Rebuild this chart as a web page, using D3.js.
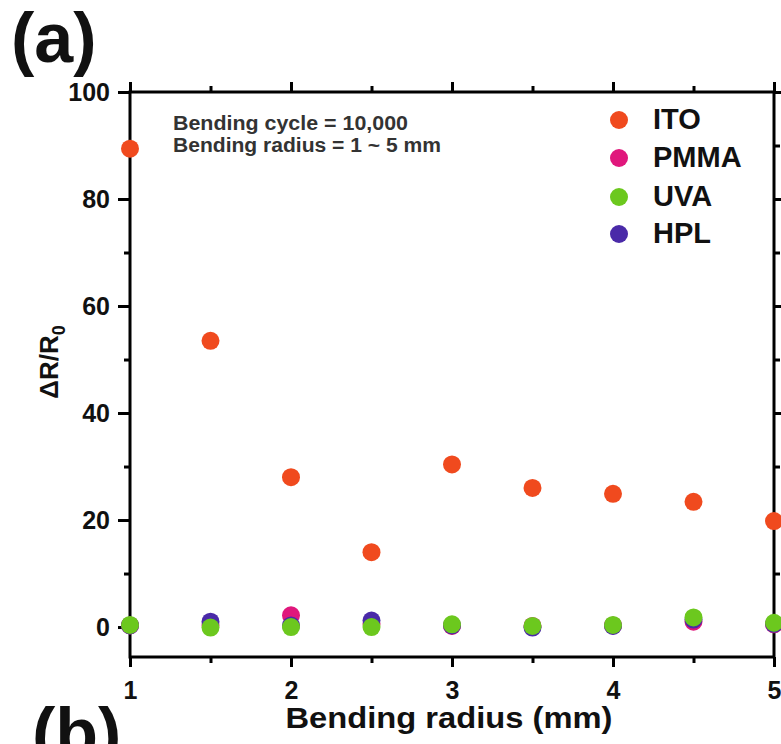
<!DOCTYPE html>
<html><head><meta charset="utf-8">
<script src="https://cdn.jsdelivr.net/npm/d3@7"></script>
<style>body{margin:0;background:#fff}svg{display:block}text{font-family:"Liberation Sans",Arial,sans-serif;font-weight:bold}</style>
</head><body>
<svg id="c" width="781" height="744"></svg>
<script>
const radius = [1, 1.5, 2, 2.5, 3, 3.5, 4, 4.5, 5];
const ITO  = [89.4, 53.5, 28.0, 14.0, 30.4, 26.0, 24.9, 23.4, 19.8];
const PMMA = [0.3, 0.4, 2.2, 0.6, 0.2, 0.2, 0.3, 1.0, 0.5];
const UVA  = [0.4, -0.1, 0.0, 0.0, 0.5, 0.2, 0.4, 1.8, 0.8];
const HPL  = [0.3, 1.0, 0.3, 1.2, 0.3, -0.1, 0.2, 1.4, 0.6];
const seriesNames = ["ITO", "PMMA", "UVA", "HPL"];
const colors = {ITO:"#f04a1e", PMMA:"#e0177c", UVA:"#6cc81e", HPL:"#4a2aa8"};
const xTicks = [1, 2, 3, 4, 5];
const xMinor = [1.5, 2.5, 3.5, 4.5];
const yTicks = [0, 20, 40, 60, 80, 100];
const yMinor = [10, 30, 50, 70, 90];

const svg = d3.select("#c");
const x = d3.scaleLinear().domain([1, 5]).range([130, 774]);
const y = d3.scaleLinear().domain([-5.6, 100]).range([657, 92]);
const L = 130, R = 774, T = 92, B = 657;

// panel labels
svg.append("text").attr("x", 11).attr("y", 62).attr("font-size", 70).attr("fill", "#111").text("(a)");
svg.append("text").attr("x", 32).attr("y", 757).attr("font-size", 70).attr("fill", "#111").text("(b)");

function styleAxis(g){
  g.select(".domain").remove();
  g.selectAll("line").attr("stroke","#000").attr("stroke-width",3);
  g.selectAll("text").attr("font-size",25).attr("fill","#111")
   .attr("font-family","Liberation Sans, Arial, sans-serif").attr("font-weight","bold");
}

const gB = svg.append("g").attr("transform", `translate(0,${B})`)
  .call(d3.axisBottom(x).tickValues(xTicks).tickFormat(d3.format("d")).tickSize(10).tickPadding(14));
styleAxis(gB);
const gBm = svg.append("g").attr("transform", `translate(0,${B})`)
  .call(d3.axisBottom(x).tickValues(xMinor).tickFormat("").tickSize(6));
styleAxis(gBm);
const gT = svg.append("g").attr("transform", `translate(0,${T})`)
  .call(d3.axisTop(x).tickValues(xTicks).tickFormat("").tickSize(10));
styleAxis(gT);
const gTm = svg.append("g").attr("transform", `translate(0,${T})`)
  .call(d3.axisTop(x).tickValues(xMinor).tickFormat("").tickSize(6));
styleAxis(gTm);
const gL = svg.append("g").attr("transform", `translate(${L},0)`)
  .call(d3.axisLeft(y).tickValues(yTicks).tickFormat(d3.format("d")).tickSize(12).tickPadding(8));
styleAxis(gL);
const gLm = svg.append("g").attr("transform", `translate(${L},0)`)
  .call(d3.axisLeft(y).tickValues(yMinor).tickFormat("").tickSize(6));
styleAxis(gLm);
const gR = svg.append("g").attr("transform", `translate(${R},0)`)
  .call(d3.axisRight(y).tickValues(yTicks).tickFormat("").tickSize(10));
styleAxis(gR);
const gRm = svg.append("g").attr("transform", `translate(${R},0)`)
  .call(d3.axisRight(y).tickValues(yMinor).tickFormat("").tickSize(6));
styleAxis(gRm);

// frame
svg.append("rect").attr("x", L).attr("y", T).attr("width", R - L).attr("height", B - T)
  .attr("fill", "none").attr("stroke", "#000").attr("stroke-width", 3);

// data
const data = {ITO, PMMA, UVA, HPL};
const drawOrder = ["ITO", "PMMA", "HPL", "UVA"];
drawOrder.forEach(name => {
  svg.append("g").selectAll("circle").data(radius.map((r, i) => ({r, v: data[name][i]})))
    .join("circle").attr("cx", d => x(d.r)).attr("cy", d => y(d.v)).attr("r", 9)
    .attr("fill", colors[name]);
});

// legend
const legendY = [120, 158, 197, 234];
seriesNames.forEach((name, i) => {
  const ly = legendY[i];
  svg.append("circle").attr("cx", 619).attr("cy", ly).attr("r", 9).attr("fill", colors[name]);
  svg.append("text").attr("x", 653).attr("y", ly + 9).attr("font-size", 29).attr("fill", "#111").text(name);
});

// annotation
svg.append("text").attr("x", 173).attr("y", 130).attr("font-size", 20).attr("fill", "#333")
  .attr("textLength", 235).attr("lengthAdjust", "spacingAndGlyphs").text("Bending cycle = 10,000");
svg.append("text").attr("x", 173).attr("y", 152).attr("font-size", 20).attr("fill", "#333")
  .attr("textLength", 268).attr("lengthAdjust", "spacingAndGlyphs").text("Bending radius = 1 ~ 5 mm");

// axis titles
svg.append("text").attr("x", 449).attr("y", 728).attr("text-anchor", "middle").attr("font-size", 30).attr("fill", "#111")
  .attr("textLength", 327).attr("lengthAdjust", "spacingAndGlyphs").text("Bending radius (mm)");
const yl = svg.append("text").attr("transform", "translate(58,362) rotate(-90)").attr("text-anchor", "middle").attr("font-size", 26).attr("fill", "#111");
yl.append("tspan").text("ΔR/R");
yl.append("tspan").attr("font-size", 18).attr("dy", 7).text("0");
</script>
</body></html>
